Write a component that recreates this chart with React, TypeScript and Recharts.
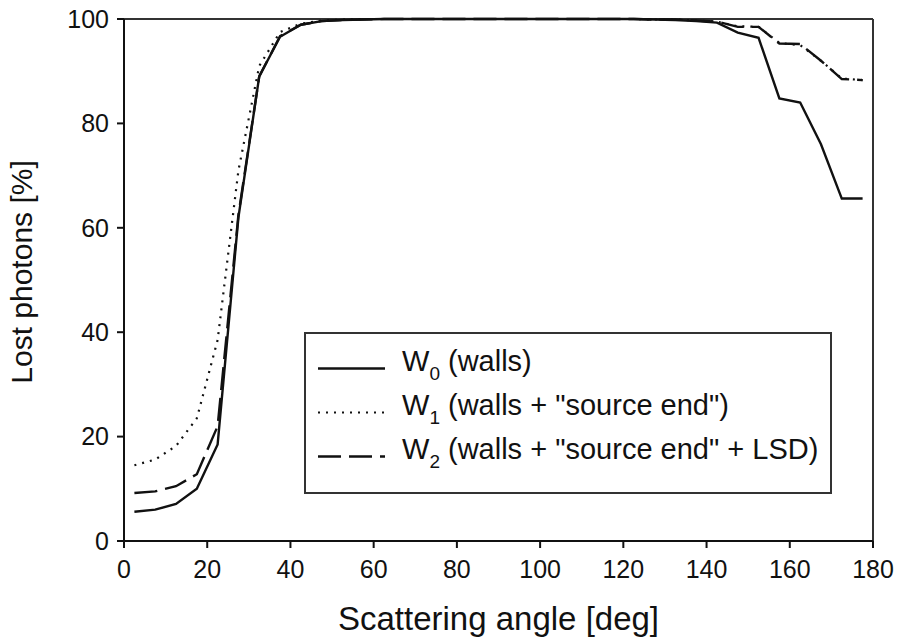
import { LineChart, Line, XAxis, YAxis, ReferenceLine, Legend, Label } from 'recharts';

// scattering angle, centre of each 5 deg bin
const angles = [
  2.5, 7.5, 12.5, 17.5, 22.5, 27.5, 32.5, 37.5, 42.5, 47.5, 52.5, 57.5,
  62.5, 67.5, 72.5, 77.5, 82.5, 87.5, 92.5, 97.5, 102.5, 107.5, 112.5, 117.5,
  122.5, 127.5, 132.5, 137.5, 142.5, 147.5, 152.5, 157.5, 162.5, 167.5, 172.5, 177.5,
];

// lost photons [%]
const w0 = [
  5.6, 6.0, 7.1, 10.0, 18.5, 62, 89, 96.6, 98.9, 99.6, 99.8, 99.9,
  100, 100, 100, 100, 100, 100, 100, 100, 100, 100, 100, 100,
  100, 99.9, 99.8, 99.6, 99.3, 97.4, 96.4, 84.8, 84.0, 76.0, 65.6, 65.6,
];
const w1 = [
  14.5, 15.6, 18.2, 23.5, 38.5, 71, 91, 97.5, 99.1, 99.7, 99.9, 100,
  100, 100, 100, 100, 100, 100, 100, 100, 100, 100, 100, 100,
  100, 99.9, 99.9, 99.7, 99.5, 98.6, 98.5, 95.4, 95.0, 92.0, 88.6, 88.3,
];
const w2 = [
  9.2, 9.5, 10.5, 12.8, 22, 62.5, 89, 96.7, 98.9, 99.6, 99.8, 99.9,
  100, 100, 100, 100, 100, 100, 100, 100, 100, 100, 100, 100,
  100, 99.9, 99.9, 99.7, 99.5, 98.5, 98.5, 95.3, 95.2, 92.0, 88.5, 88.3,
];

const xTicks = [0, 20, 40, 60, 80, 100, 120, 140, 160, 180];
const yTicks = [0, 20, 40, 60, 80, 100];

const seriesKeys = ['w0', 'w1', 'w2'];
const legendSubs = ['0', '1', '2'];
const legendTexts = [' (walls)', ' (walls + "source end")', ' (walls + "source end" + LSD)'];

const data = angles.map((a, i) => ({ angle: a, w0: w0[i], w1: w1[i], w2: w2[i] }));

const FONT = '"Liberation Sans", Arial, Helvetica, sans-serif';
const INK = '#111';

const dashes: Record<string, string | undefined> = {
  w0: undefined,
  w1: '2 6',
  w2: '23 8',
};
const widths: Record<string, number> = { w0: 2.4, w1: 2.2, w2: 2.4 };

function LegendBox() {
  return (
    <div
      style={{
        position: 'relative',
        width: 528,
        height: 162,
        border: `2px solid #333`,
        boxSizing: 'border-box',
        background: '#fff',
        fontFamily: FONT,
        color: INK,
      }}
    >
      {seriesKeys.map((k, i) => (
        <div
          key={k}
          style={{
            position: 'absolute',
            left: 12,
            top: 7 + i * 44,
            height: 44,
            display: 'flex',
            alignItems: 'center',
            whiteSpace: 'nowrap',
          }}
        >
          <svg width={67} height={44} style={{ display: 'block' }}>
            <line
              x1={0}
              x2={67}
              y1={27.5}
              y2={27.5}
              stroke={INK}
              strokeWidth={widths[k]}
              strokeDasharray={dashes[k]}
            />
          </svg>
          <span style={{ marginLeft: 17, fontSize: 29, lineHeight: '44px' }}>
            W
            <span style={{ fontSize: 19, position: 'relative', top: 9 }}>{legendSubs[i]}</span>
            {legendTexts[i]}
          </span>
        </div>
      ))}
    </div>
  );
}

function YTitle() {
  return (
    <text
      x={32}
      y={272}
      transform="rotate(-90 32 272)"
      textAnchor="middle"
      fontSize={30}
      fontFamily={FONT}
      fill={INK}
    >
      Lost photons [%]
    </text>
  );
}

export default function App() {
  return (
    <div style={{ position: 'absolute', left: 0, top: 0, background: '#fff' }}>
      <LineChart
        width={900}
        height={640}
        data={data}
        margin={{ top: 19, right: 27, left: 0, bottom: 0 }}
      >
        <XAxis
          dataKey="angle"
          type="number"
          domain={[0, 180]}
          ticks={xTicks}
          interval={0}
          height={99}
          tickSize={7}
          tickMargin={12}
          axisLine={{ stroke: INK, strokeWidth: 2 }}
          tickLine={{ stroke: INK, strokeWidth: 2 }}
          tick={{ fill: INK, fontSize: 25, fontFamily: FONT }}
        >
          <Label
            value="Scattering angle [deg]"
            position="insideBottom"
            offset={10}
            style={{ fontSize: 33, fontFamily: FONT, fill: INK }}
          />
        </XAxis>
        <YAxis
          type="number"
          domain={[0, 100]}
          ticks={yTicks}
          interval={0}
          width={124}
          tickSize={7}
          tickMargin={8}
          axisLine={{ stroke: INK, strokeWidth: 2 }}
          tickLine={{ stroke: INK, strokeWidth: 2 }}
          tick={{ fill: INK, fontSize: 25, fontFamily: FONT }}
        >
          <Label content={<YTitle />} />
        </YAxis>
        <ReferenceLine y={100} stroke="#333" strokeWidth={2} />
        <ReferenceLine x={180} stroke="#333" strokeWidth={2} />
        <Legend
          layout="horizontal"
          verticalAlign="middle"
          align="center"
          content={<LegendBox />}
          wrapperStyle={{ position: 'absolute', left: 304, top: 332, width: 528, height: 162 }}
        />
        {seriesKeys.map((k) => (
          <Line
            key={k}
            type="linear"
            dataKey={k}
            stroke={INK}
            strokeWidth={widths[k]}
            strokeDasharray={dashes[k]}
            dot={false}
            activeDot={false}
            isAnimationActive={false}
          />
        ))}
      </LineChart>
    </div>
  );
}
